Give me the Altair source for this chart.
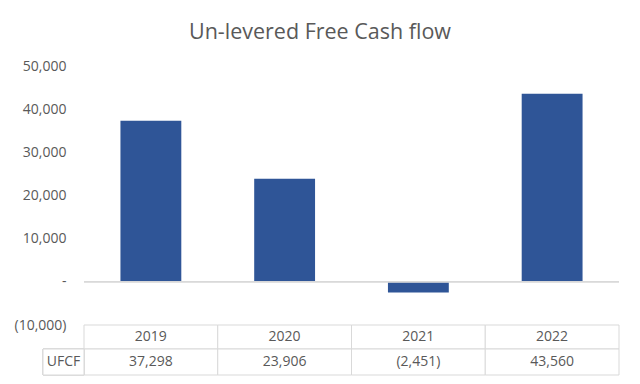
import altair as alt
import pandas as pd

years = ["2019", "2020", "2021", "2022"]
ufcf = [37298, 23906, -2451, 43560]
y_ticks = [-10000, 0, 10000, 20000, 30000, 40000, 50000]
row_label = "UFCF"
title_text = "Un-levered Free Cash flow"

df = pd.DataFrame({"year": years, "ufcf": ufcf})

FONT = "Open Sans"
TXT = "#595959"
LINE = "#D9D9D9"
BAR = "#2F5597"

W, H = 535, 259

xscale = alt.Scale(domain=years, paddingInner=0, paddingOuter=0)
x_enc = alt.X("year:N", scale=xscale, axis=None)

base = alt.Chart(df)

bars = base.mark_bar(color=BAR, width={"band": 0.455}).encode(
    x=x_enc,
    y=alt.Y(
        "ufcf:Q",
        scale=alt.Scale(domain=[-10000, 50000], nice=False, zero=False),
        axis=alt.Axis(
            values=y_ticks,
            title=None,
            grid=False,
            domain=False,
            ticks=False,
            labelPadding=18,
            labelFont=FONT,
            labelFontSize=14,
            labelColor=TXT,
            labelExpr="datum.value == 0 ? '-\u00a0\u00a0' : (datum.value < 0 ? '(' + format(-datum.value, ',') + ')' : format(datum.value, ','))",
        ),
    ),
)

zero = base.mark_rule(color=LINE, strokeWidth=1).encode(y=alt.datum(0))

hdr_cells = base.mark_rect(fill="white", stroke=LINE, strokeWidth=1).encode(
    x=x_enc, y=alt.value(H), y2=alt.value(H + 24)
)
val_cells = base.mark_rect(fill="white", stroke=LINE, strokeWidth=1).encode(
    x=x_enc, y=alt.value(H + 24), y2=alt.value(H + 50)
)
lab_cell = base.mark_rect(fill="white", stroke=LINE, strokeWidth=1).encode(
    x=alt.value(-41), x2=alt.value(0), y=alt.value(H + 24), y2=alt.value(H + 50)
)

hdr_text = base.mark_text(font=FONT, fontSize=14, color=TXT, baseline="middle").encode(
    x=alt.X("year:N", scale=xscale, axis=None, bandPosition=0.5),
    y=alt.value(H + 12),
    text="year:N",
)
val_text = base.transform_calculate(
    lbl="datum.ufcf < 0 ? '(' + format(-datum.ufcf, ',') + ')' : format(datum.ufcf, ',')"
).mark_text(font=FONT, fontSize=14, color=TXT, baseline="middle").encode(
    x=alt.X("year:N", scale=xscale, axis=None, bandPosition=0.5),
    y=alt.value(H + 37),
    text="lbl:N",
)
lab_text = alt.Chart(pd.DataFrame({"t": [row_label]})).mark_text(
    font=FONT, fontSize=14, color=TXT, baseline="middle"
).encode(x=alt.value(-20.5), y=alt.value(H + 37), text="t:N")

chart = (
    alt.layer(bars, zero, hdr_cells, val_cells, lab_cell, hdr_text, val_text, lab_text)
    .properties(
        width=W,
        height=H,
        title=alt.TitleParams(
            title_text,
            font=FONT,
            fontSize=21.5,
            fontWeight="normal",
            color=TXT,
            anchor="middle",
            frame="group",
            dx=-31.5,
            offset=16,
        ),
        autosize=alt.AutoSizeParams(type="none"),
        padding={"left": 76, "top": 58, "right": 13, "bottom": 51},
    )
    .configure(background="white", view=alt.ViewConfig(strokeWidth=0, stroke="transparent"))
)

chart.save("out.html", embed_options={"renderer": "svg", "actions": False})
